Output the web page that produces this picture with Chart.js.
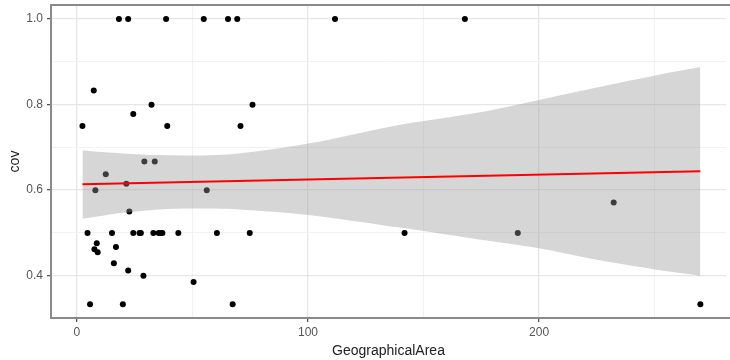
<!DOCTYPE html>
<html lang="en">
<head>
<meta charset="UTF-8">
<title>cov vs GeographicalArea</title>
<style>
body { margin: 0; background: #fff; }
#wrap { width: 730px; height: 360px; }
</style>
</head>
<body>
<div id="wrap"><canvas id="chart" width="730" height="360"></canvas></div>
<script src="https://cdn.jsdelivr.net/npm/chart.js@4.4.1/dist/chart.umd.min.js"></script>
<script>
// observed points
const areaX = [18.2, 22.2, 38.6, 54.9, 65.4, 69.4, 111.7, 167.9,
  7.3, 32.3, 76.0, 24.4, 2.4, 39.1, 70.8,
  29.2, 33.7, 12.5,
  8.0, 21.4, 56.2, 22.7, 232.3,
  4.6, 15.2, 24.4, 27.1, 27.7, 33.1, 35.4, 36.3, 37.0, 43.9, 60.6, 74.8, 141.8, 190.8,
  8.6, 7.6, 9.0, 16.9, 16.0, 22.2, 28.8, 50.5,
  5.7, 19.9, 67.4, 269.8];
const covY = [1, 1, 1, 1, 1, 1, 1, 1,
  0.833, 0.8, 0.8, 0.778, 0.75, 0.75, 0.75,
  0.667, 0.667, 0.637,
  0.6, 0.615, 0.6, 0.55, 0.571,
  0.5, 0.5, 0.5, 0.5, 0.5, 0.5, 0.5, 0.5, 0.5, 0.5, 0.5, 0.5, 0.5, 0.5,
  0.476, 0.462, 0.455, 0.467, 0.429, 0.412, 0.4, 0.385,
  0.333, 0.333, 0.333, 0.333];

// fitted line and confidence band
const fitX = [2.4, 269.8];
const fitY = [0.614, 0.644];
const bandX = [2.4, 20, 35.7, 50, 70.1, 100.2, 138.9, 173.3, 200, 224.9, 250.8, 269.8];
const bandUpper = [0.693, 0.686, 0.682, 0.681, 0.686, 0.709, 0.752, 0.781, 0.811, 0.840, 0.869, 0.888];
const bandLower = [0.533, 0.547, 0.555, 0.557, 0.555, 0.542, 0.513, 0.485, 0.464, 0.437, 0.414, 0.400];

const xTicks = [0, 50, 100, 150, 200, 250];
const yTicks = [0.4, 0.5, 0.6, 0.7, 0.8, 0.9, 1.0];

const pts = (xs, ys) => xs.map((x, i) => ({ x: x, y: ys[i] }));
const isMajorX = v => v % 100 === 0;
const isMajorY = v => Math.round(v * 10) % 2 === 0;

const panelBorder = {
  id: 'panelBorder',
  afterDraw(chart) {
    const a = chart.chartArea, ctx = chart.ctx;
    ctx.save();
    ctx.strokeStyle = '#8a8a8a';
    ctx.lineWidth = 2;
    ctx.strokeRect(a.left, a.top, a.right - a.left + 10, a.bottom - a.top);
    ctx.restore();
  }
};

new Chart(document.getElementById('chart'), {
  type: 'scatter',
  data: {
    datasets: [
      { label: 'fit', type: 'line', data: pts(fitX, fitY), borderColor: '#ff0000', borderWidth: 2,
        pointRadius: 0, fill: false, order: 1 },
      { label: 'upper', type: 'line', data: pts(bandX, bandUpper), borderWidth: 0, borderColor: 'rgba(0,0,0,0)',
        pointRadius: 0, fill: '+1', backgroundColor: 'rgba(153,153,153,0.4)', tension: 0.3, order: 2 },
      { label: 'lower', type: 'line', data: pts(bandX, bandLower), borderWidth: 0, borderColor: 'rgba(0,0,0,0)',
        pointRadius: 0, fill: false, tension: 0.3, order: 2 },
      { label: 'cov', data: pts(areaX, covY), backgroundColor: '#000', borderColor: '#000',
        pointRadius: 3, borderWidth: 0, order: 3 }
    ]
  },
  options: {
    responsive: false,
    animation: false,
    layout: { padding: { top: 5, right: 0, left: 0, bottom: 0 } },
    plugins: { legend: { display: false }, tooltip: { enabled: false } },
    scales: {
      x: {
        type: 'linear', min: -11.2, max: 280.9,
        afterFit: s => { s.height = 42; s.paddingLeft = 0; s.paddingRight = 0; },
        afterBuildTicks: s => { s.ticks = xTicks.map(v => ({ value: v })); },
        grid: {
          color: c => isMajorX(c.tick.value) ? '#e6e6e6' : '#f2f2f2',
          lineWidth: c => isMajorX(c.tick.value) ? 1.3 : 1,
          tickColor: c => isMajorX(c.tick.value) ? '#555' : 'rgba(0,0,0,0)',
          tickLength: 4
        },
        border: { display: false },
        ticks: {
          padding: 3, color: '#555', font: { family: 'Liberation Sans', size: 12 },
          maxRotation: 0, autoSkip: false,
          callback: v => isMajorX(v) ? String(v) : ''
        },
        title: { display: true, text: 'GeographicalArea', color: '#222',
          font: { family: 'Liberation Sans', size: 14 }, padding: { top: 2, bottom: 0 } }
      },
      y: {
        type: 'linear', min: 0.301, max: 1.033,
        afterFit: s => { s.width = 51; s.paddingTop = 0; s.paddingBottom = 0; },
        afterBuildTicks: s => { s.ticks = yTicks.map(v => ({ value: v })); },
        grid: {
          color: c => isMajorY(c.tick.value) ? '#e6e6e6' : '#f2f2f2',
          lineWidth: c => isMajorY(c.tick.value) ? 1.3 : 1,
          tickColor: c => isMajorY(c.tick.value) ? '#555' : 'rgba(0,0,0,0)',
          tickLength: 4
        },
        border: { display: false },
        ticks: {
          padding: 4, color: '#555', font: { family: 'Liberation Sans', size: 12 },
          autoSkip: false,
          callback: v => isMajorY(v) ? v.toFixed(1) : ''
        },
        title: { display: true, text: 'cov', color: '#222',
          font: { family: 'Liberation Sans', size: 14 }, padding: { top: 7, bottom: 0 } }
      }
    }
  },
  plugins: [panelBorder]
});
</script>
</body>
</html>
